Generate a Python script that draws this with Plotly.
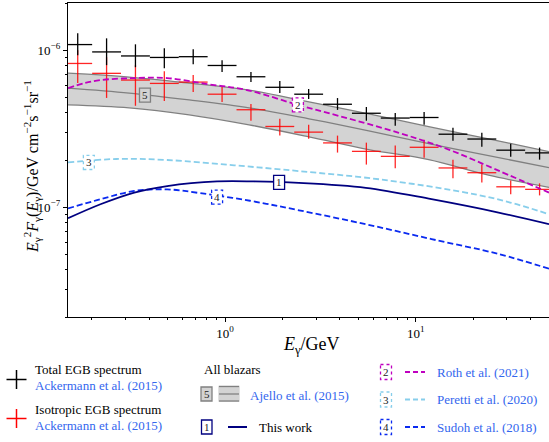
import numpy as np
import plotly.graph_objects as go

# ---------------- data ----------------
# Energy bins (GeV) of the Fermi-LAT EGB spectrum shown in the window
bin_lo = [0.1417, 0.2008, 0.2845, 0.4033, 0.5715, 0.8100, 1.148, 1.627, 2.305, 3.266,
          4.628, 6.558, 9.294, 13.17, 18.66, 26.45, 37.48]
bin_hi = [0.2008, 0.2845, 0.4033, 0.5715, 0.8100, 1.148, 1.627, 2.305, 3.266, 4.628,
          6.558, 9.294, 13.17, 18.66, 26.45, 37.48, 53.11]

# Total EGB (units 1e-7 GeV cm^-2 s^-1 sr^-1)
tot_y  = [10.87, 9.76, 9.20, 9.00, 9.10, 8.00, 6.78, 5.81, 5.25, 4.53, 3.97, 3.70, 3.73, 2.92, 2.72, 2.31, 2.22]
tot_up = [12.82, 11.91, 10.91, 10.30, 10.15, 8.64, 7.26, 6.37, 5.66, 4.96, 4.35, 3.99, 4.05, 3.21, 2.98, 2.54, 2.40]
tot_dn = [9.30, 8.04, 7.80, 7.69, 8.15, 7.26, 6.27, 5.34, 4.90, 4.17, 3.56, 3.30, 3.35, 2.65, 2.43, 2.10, 2.01]

# Isotropic EGB
iso_y  = [8.24, 7.13, 6.46, 6.15, 6.27, 5.25, 4.18, 3.27, 3.01, 2.57, 2.27, 2.11, 2.41, 1.78, 1.66, 1.35, 1.30]
iso_up = [10.0, 9.03, 8.04, 7.36, 6.95, 5.83, 4.55, 3.66, 3.35, 2.86, 2.58, 2.47, 2.69, 2.01, 1.87, 1.48, 1.42]
iso_dn = [6.18, 4.97, 4.43, 4.75, 5.42, 4.69, 3.56, 2.86, 2.73, 2.23, 1.87, 1.77, 2.07, 1.53, 1.44, 1.21, 1.19]

# Ajello et al. (2015) band
band_E   = [0.15, 0.314, 0.648, 1.336, 2.755, 5.67, 11.7, 24.1, 50]
band_up  = [7.15, 6.75, 6.18, 5.58, 4.69, 3.94, 3.26, 2.73, 2.26]
band_mid = [5.74, 5.34, 4.83, 4.30, 3.66, 3.07, 2.54, 2.13, 1.79]
band_lo  = [4.49, 4.30, 3.88, 3.35, 2.81, 2.33, 2.01, 1.60, 1.34]

# Roth et al. (2021)
roth_E = [0.15, 0.183, 0.222, 0.334, 0.497, 0.805, 1.30, 2.41, 3.95, 8.15, 14.9, 27.2, 50]
roth_y = [5.74, 6.18, 6.46, 6.65, 6.65, 6.09, 5.58, 4.49, 3.82, 2.98, 2.33, 1.71, 1.24]

# Peretti et al. (2020)
per_E = [0.15, 0.269, 0.497, 1.115, 2.44, 6.64, 18.3, 30.7, 50]
per_y = [1.93, 2.03, 2.00, 1.85, 1.70, 1.50, 1.24, 1.08, 0.903]

# This work
tw_E = [0.15, 0.222, 0.334, 0.497, 0.908, 1.42, 2.44, 5.47, 12.1, 27.2, 50]
tw_y = [0.851, 1.045, 1.24, 1.365, 1.46, 1.46, 1.43, 1.33, 1.125, 0.925, 0.78]

# Sudoh et al. (2018)
su_E = [0.15, 0.222, 0.334, 0.497, 0.74, 1.35, 2.44, 5.47, 12.1, 27.2, 50]
su_y = [0.982, 1.125, 1.27, 1.30, 1.23, 1.10, 0.957, 0.78, 0.627, 0.504, 0.406]

# curve labels: (text, E, y[1e-7])
curve_labels = [("5", 0.380, 5.18), ("2", 2.41, 4.49), ("3", 0.193, 1.93), ("4", 0.908, 1.16), ("1", 1.92, 1.44)]

x_tickvals = [1, 10]
x_ticktext = ["10<sup>0</sup>", "10<sup>1</sup>"]
x_minor = [0.2, 0.3, 0.4, 0.5, 0.6, 0.7, 0.8, 0.9, 2, 3, 4, 5, 6, 7, 8, 9, 20, 30, 40, 50]
y_tickvals = [1e-7, 1e-6]
y_ticktext = ["10<sup>−7</sup>", "10<sup>−6</sup>"]
y_minor = [2e-8, 3e-8, 4e-8, 5e-8, 6e-8, 7e-8, 8e-8, 9e-8, 2e-7, 3e-7, 4e-7, 5e-7, 6e-7, 7e-7, 8e-7, 9e-7, 2e-6]

x_range = [0.15, 50]
y_range = [2e-8, 2e-6]
UNIT = 1e-7

# ---------------- styles ----------------
FONT = "Liberation Serif, Times New Roman, Times, DejaVu Serif, serif"
BLACK = "black"
RED = "rgba(255,0,0,0.85)"
GRAYFILL = "#d3d3d3"
GRAYLINE = "#808080"
MAGENTA = "#bf00bf"
SKY = "#87ceeb"
NAVY = "#000080"
BLUE = "#0a2af0"
TXTBLUE = "#3366ee"
DASH = "6px,3px"
BOX_HW = 0.0288   # half box width in decades
BOX_HH = 0.045    # half box height in decades

sc = lambda a: [v * UNIT for v in a]
bin_c = [np.sqrt(a * b) for a, b in zip(bin_lo, bin_hi)]

fig = go.Figure()

# band
fig.add_trace(go.Scatter(x=band_E, y=sc(band_lo), mode="lines", line=dict(color=GRAYLINE, width=1.3, shape="spline"),
                         showlegend=False, hoverinfo="skip"))
fig.add_trace(go.Scatter(x=band_E, y=sc(band_up), mode="lines", line=dict(color=GRAYLINE, width=1.3, shape="spline"),
                         fill="tonexty", fillcolor=GRAYFILL, showlegend=False, hoverinfo="skip"))
fig.add_trace(go.Scatter(x=band_E, y=sc(band_mid), mode="lines", line=dict(color=GRAYLINE, width=1.3, shape="spline"),
                         showlegend=False, hoverinfo="skip"))

# model curves
for E, y, col, dash in [(per_E, per_y, SKY, DASH), (su_E, su_y, BLUE, DASH), (tw_E, tw_y, NAVY, "solid")]:
    fig.add_trace(go.Scatter(x=E, y=sc(y), mode="lines", line=dict(color=col, width=1.8, dash=dash, shape="spline"),
                             showlegend=False))


def add_points(yv, up, dn, color):
    fig.add_trace(go.Scatter(
        x=bin_c, y=sc(yv), mode="markers", marker=dict(size=1, color="rgba(0,0,0,0)"),
        error_x=dict(type="data", symmetric=False, array=[h - c for h, c in zip(bin_hi, bin_c)],
                     arrayminus=[c - l for c, l in zip(bin_c, bin_lo)], color=color, thickness=1.3, width=0),
        error_y=dict(type="data", symmetric=False, array=[(u - v) * UNIT for u, v in zip(up, yv)],
                     arrayminus=[(v - d) * UNIT for v, d in zip(yv, dn)], color=color, thickness=1.3, width=0),
        showlegend=False))


add_points(iso_y, iso_up, iso_dn, RED)
add_points(tot_y, tot_up, tot_dn, BLACK)

fig.add_trace(go.Scatter(x=roth_E, y=sc(roth_y), mode="lines",
                         line=dict(color=MAGENTA, width=1.8, dash=DASH, shape="spline"), showlegend=False))

# curve label boxes
box_style = {"5": (GRAYFILL, GRAYLINE, "solid"), "2": ("white", MAGENTA, "dot"), "3": ("white", SKY, "dot"),
             "4": ("white", BLUE, "dot"), "1": ("white", NAVY, "solid")}
for t, E, yv in curve_labels:
    fill, edge, dsh = box_style[t]
    fig.add_shape(type="rect", xref="x", yref="y",
                  x0=E / 10 ** BOX_HW, x1=E * 10 ** BOX_HW,
                  y0=yv * UNIT / 10 ** BOX_HH, y1=yv * UNIT * 10 ** BOX_HH,
                  fillcolor=fill, line=dict(color=edge, width=1.3, dash=dsh), layer="above")
    fig.add_annotation(x=np.log10(E), y=np.log10(yv * UNIT), text=t, showarrow=False,
                       font=dict(family=FONT, size=11, color="#222"), xanchor="center", yanchor="middle")

# ---------------- legend (manual) ----------------
L, R, T, B = 68, 549, 3, 317
W, H = R - L, B - T
px = lambda x: (x - L) / W
py = lambda y: (B - y) / H


def seg(x0, y0, x1, y1, color, width=1.5, dash="solid"):
    fig.add_shape(type="line", xref="paper", yref="paper", x0=px(x0), y0=py(y0), x1=px(x1), y1=py(y1),
                  line=dict(color=color, width=width, dash=dash))


def box(x0, y0, x1, y1, fill, edge, dash="solid"):
    fig.add_shape(type="rect", xref="paper", yref="paper", x0=px(x0), y0=py(y0), x1=px(x1), y1=py(y1),
                  fillcolor=fill, line=dict(color=edge, width=1.3, dash=dash))


def txt(x, y, s, color=BLACK, size=13, anchor="left", angle=0):
    fig.add_annotation(xref="paper", yref="paper", x=px(x), y=py(y), text=s, showarrow=False,
                       xanchor=anchor, yanchor="middle", textangle=angle,
                       font=dict(family=FONT, size=size, color=color))


# crosses
seg(6.5, 379.5, 26.5, 379.5, BLACK); seg(16.5, 370, 16.5, 389, BLACK)
seg(6.5, 418.5, 26.5, 418.5, "red"); seg(16.5, 409, 16.5, 428, "red")
txt(32.5, 369.5, "Total EGB spectrum")
txt(32.5, 385.5, "Ackermann et al. (2015)", TXTBLUE)
txt(32.5, 409.5, "Isotropic EGB spectrum")
txt(32.5, 425.5, "Ackermann et al. (2015)", TXTBLUE)

txt(202, 369, "All blazars")
box(201, 387, 212, 401, GRAYFILL, GRAYLINE); txt(206.5, 394, "5", "#222", 11, "center")
box(219, 386.5, 239, 401, GRAYFILL, GRAYFILL)
seg(219, 386.5, 239, 386.5, GRAYLINE, 1.3); seg(219, 394, 239, 394, GRAYLINE, 1.3); seg(219, 401, 239, 401, GRAYLINE, 1.3)
txt(247.5, 395, "Ajello et al. (2015)", TXTBLUE)
box(201.5, 420, 212, 434, "white", NAVY); txt(206.7, 427, "1", "#222", 11, "center")
seg(228, 427, 247, 427, NAVY, 2)
txt(256.5, 427, "This work")

for yy, col, s, n in [(372, MAGENTA, "Roth et al. (2021)", "2"), (399.5, SKY, "Peretti et al. (2020)", "3"),
                      (427, BLUE, "Sudoh et al. (2018)", "4")]:
    box(380.5, yy - 7.5, 391.5, yy + 7.5, "white", col, "dot")
    txt(386, yy, n, "#222", 11, "center")
    seg(405, yy, 425, yy, col, 2, "5px,3px")
    txt(434.5, yy, s, TXTBLUE)

# axis titles
txt(32, 167, "<i>E</i><sub>γ</sub><sup>2</sup><i>F</i><sub>γ</sub>(<i>E</i><sub>γ</sub>)/GeV cm<sup>−2</sup>s<sup>−1</sup>sr<sup>−1</sup>",
    BLACK, 16, "center", -90)
txt(311, 345, "<i>E</i><sub>γ</sub>/GeV", BLACK, 18, "center")

axis_common = dict(type="log", showline=True, linecolor="black", linewidth=1.2, mirror=True,
                   ticks="outside", ticklen=4, tickcolor="black", tickmode="array",
                   showgrid=False, zeroline=False, tickfont=dict(family=FONT, size=13, color="black"))

fig.update_layout(
    width=549, height=442, margin=dict(l=L, r=549 - R, t=T, b=442 - B),
    paper_bgcolor="white", plot_bgcolor="white", showlegend=False,
    font=dict(family=FONT, size=13, color="black"),
    xaxis=dict(range=[np.log10(x_range[0]), np.log10(x_range[1])], tickvals=x_tickvals, ticktext=x_ticktext,
               minor=dict(tickmode="array", tickvals=x_minor, ticks="outside", ticklen=2, tickcolor="black", showgrid=False),
               **axis_common),
    yaxis=dict(range=[np.log10(y_range[0]), np.log10(y_range[1])], tickvals=y_tickvals, ticktext=y_ticktext,
               minor=dict(tickmode="array", tickvals=y_minor, ticks="outside", ticklen=2, tickcolor="black", showgrid=False),
               **axis_common),
)

fig.write_html("out.html")
